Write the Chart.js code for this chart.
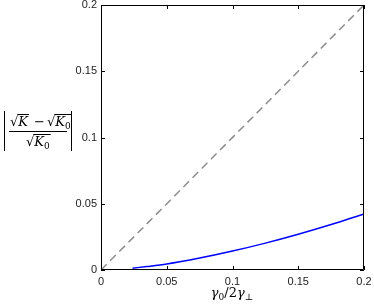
<!DOCTYPE html>
<html>
<head>
<meta charset="utf-8">
<script src="https://cdn.jsdelivr.net/npm/chart.js@4"></script>
<style>
  html, body { margin: 0; padding: 0; background: #fff; }
  #wrap { width: 374px; height: 306px; }
</style>
</head>
<body>
<div id="wrap"><canvas id="grafico" width="374" height="306"></canvas></div>
<script>
// datos
const xCurva = [0.024, 0.035, 0.05, 0.075, 0.1, 0.125, 0.15, 0.175, 0.2];
const yCurva = [0.0014, 0.0026, 0.0045, 0.009, 0.0143, 0.0203, 0.027, 0.0343, 0.0423];
const xDiag = [0, 0.2];
const yDiag = [0, 0.2];
const marcas = [0, 0.05, 0.1, 0.15, 0.2];

const curva = xCurva.map((x, i) => ({ x: x, y: yCurva[i] }));
const diag = xDiag.map((x, i) => ({ x: x, y: yDiag[i] }));

// marco + marcas hacia adentro + etiquetas de los ejes
const marco = {
    id: "marco",
    afterDraw(chart) {
        const ctx = chart.ctx;
        const a = chart.chartArea;
        const sx = chart.scales.x, sy = chart.scales.y;
        ctx.save();
        ctx.strokeStyle = "#000";
        ctx.lineWidth = 1;
        ctx.beginPath();
        ctx.rect(a.left + 0.5, a.top + 0.5, a.right - a.left - 1, a.bottom - a.top - 1);
        marcas.forEach(v => {
            const px = Math.round(sx.getPixelForValue(v)) + 0.5;
            ctx.moveTo(px, a.bottom); ctx.lineTo(px, a.bottom - 4);
            ctx.moveTo(px, a.top); ctx.lineTo(px, a.top + 4);
            const py = Math.round(sy.getPixelForValue(v)) + 0.5;
            ctx.moveTo(a.left, py); ctx.lineTo(a.left + 4, py);
            ctx.moveTo(a.right, py); ctx.lineTo(a.right - 4, py);
        });
        ctx.stroke();

        // titulo eje x
        ctx.fillStyle = "#000";
        ctx.textBaseline = "alphabetic";
        const base = 297;
        const partes = [
            ["γ", "italic 13px 'DejaVu Serif'", 0],
            ["0", "9px 'DejaVu Serif'", 3],
            ["/2", "13px 'DejaVu Serif'", 0],
            ["γ", "italic 13px 'DejaVu Serif'", 0],
            ["⊥", "9px 'DejaVu Serif'", 3]
        ];
        let ancho = 0;
        partes.forEach(p => { ctx.font = p[1]; ancho += ctx.measureText(p[0]).width; });
        let x = 232 - ancho / 2;
        partes.forEach(p => {
            ctx.font = p[1];
            ctx.fillText(p[0], x, base + p[2]);
            x += ctx.measureText(p[0]).width;
        });

        // titulo eje y: |(sqrt K - sqrt K0)/sqrt K0|
        const cy = 131;
        ctx.lineWidth = 1;
        ctx.beginPath();
        ctx.moveTo(4.5, 111); ctx.lineTo(4.5, 151);
        ctx.moveTo(71.5, 111); ctx.lineTo(71.5, 151);
        ctx.moveTo(9, cy + 0.5); ctx.lineTo(67, cy + 0.5);
        ctx.stroke();
        const raiz = (txt, sub, x0, y0) => {
            ctx.font = "13px 'DejaVu Serif'";
            ctx.fillText("√", x0, y0);
            let w = ctx.measureText("√").width;
            ctx.font = "italic 13px 'DejaVu Serif'";
            const wk = ctx.measureText(txt).width;
            ctx.fillText(txt, x0 + w, y0);
            let total = w + wk;
            if (sub) {
                ctx.font = "9px 'DejaVu Serif'";
                ctx.fillText(sub, x0 + total, y0 + 3);
                total += ctx.measureText(sub).width;
            }
            ctx.beginPath();
            ctx.moveTo(x0 + w - 1, y0 - 11.5);
            ctx.lineTo(x0 + total + 1, y0 - 11.5);
            ctx.stroke();
            return total;
        };
        raiz("K", "", 10, 126);
        ctx.font = "13px 'DejaVu Serif'";
        ctx.fillText("−", 34, 126);
        raiz("K", "0", 47, 126);
        raiz("K", "0", 26, 146);
        ctx.restore();
    }
};

new Chart(document.getElementById("grafico"), {
    type: "scatter",
    data: {
        datasets: [
            {
                label: "diagonal",
                data: diag,
                showLine: true,
                borderColor: "#8c8c8c",
                borderWidth: 1.5,
                borderDash: [8, 5],
                pointRadius: 0
            },
            {
                label: "curva",
                data: curva,
                showLine: true,
                borderColor: "#0000ff",
                borderWidth: 1.5,
                cubicInterpolationMode: "monotone",
                pointRadius: 0
            }
        ]
    },
    options: {
        responsive: false,
        animation: false,
        layout: { padding: { left: 0, right: 10, top: 5, bottom: 0 } },
        plugins: { legend: { display: false }, tooltip: { enabled: false } },
        scales: {
            x: {
                type: "linear", min: 0, max: 0.2,
                afterFit: s => { s.height = 36; s.paddingLeft = 0; s.paddingRight = 0; },
                afterBuildTicks: s => { s.ticks = marcas.map(v => ({ value: v })); },
                grid: { display: false, drawTicks: false },
                border: { display: false },
                ticks: {
                    color: "#222", padding: 5,
                    font: { family: "'Liberation Sans'", size: 11 },
                    callback: v => String(v)
                }
            },
            y: {
                type: "linear", min: 0, max: 0.2,
                afterFit: s => { s.width = 101; s.paddingTop = 0; s.paddingBottom = 0; },
                afterBuildTicks: s => { s.ticks = marcas.map(v => ({ value: v })); },
                grid: { display: false, drawTicks: false },
                border: { display: false },
                ticks: {
                    color: "#222", padding: 4,
                    font: { family: "'Liberation Sans'", size: 11 },
                    callback: v => String(v)
                }
            }
        }
    },
    plugins: [marco]
});
</script>
</body>
</html>
